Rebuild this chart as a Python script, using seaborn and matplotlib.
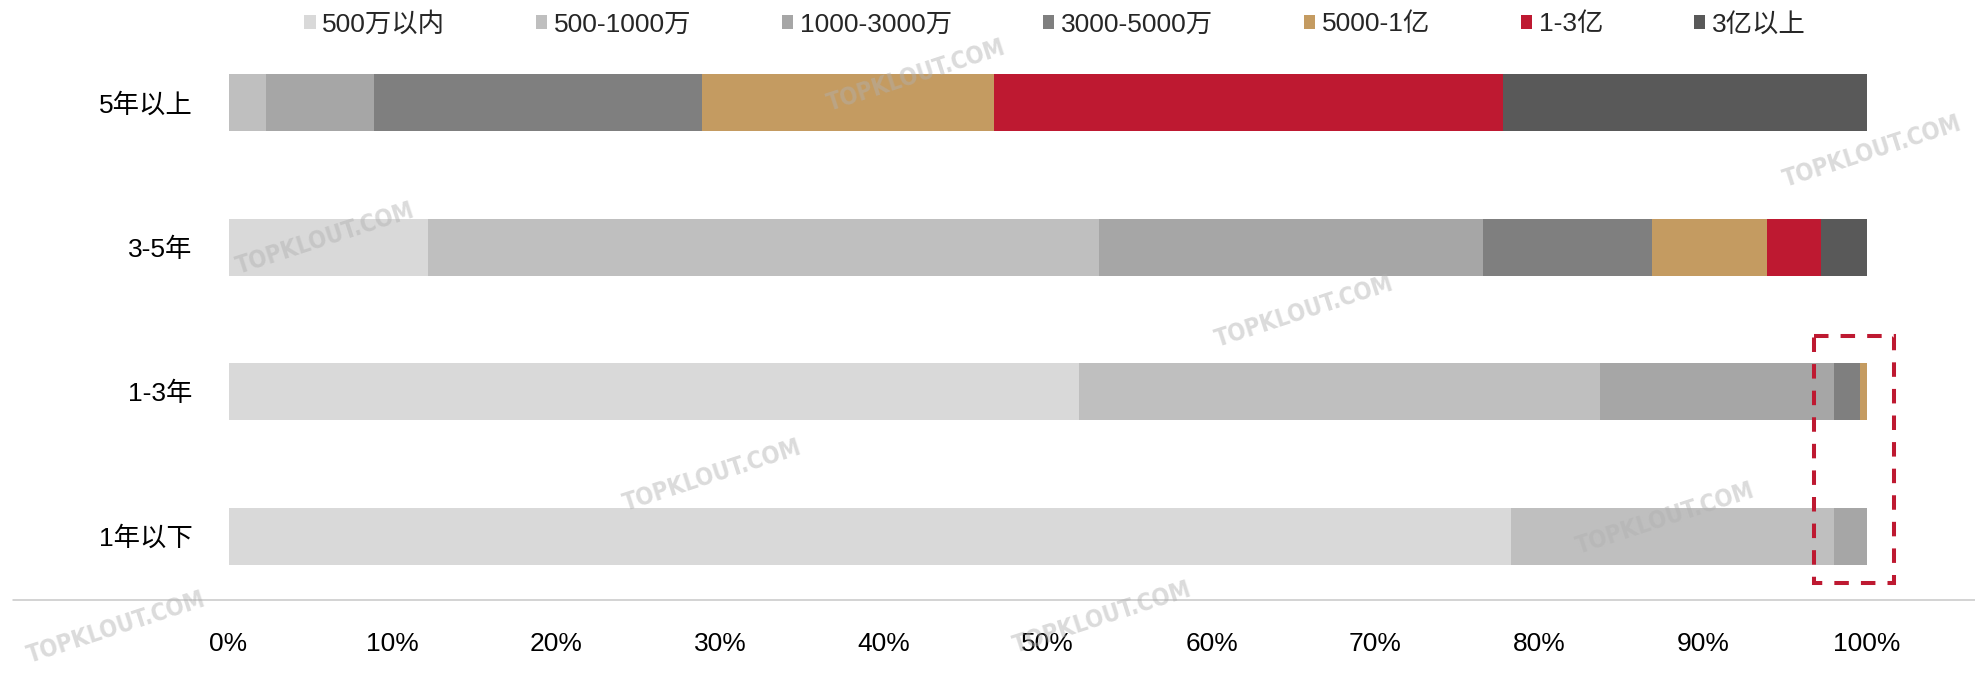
import numpy as np
import pandas as pd
import matplotlib
matplotlib.use("Agg")
import matplotlib.pyplot as plt
import seaborn as sns
from matplotlib.patches import Rectangle, Patch
from matplotlib.lines import Line2D
from matplotlib.ticker import FuncFormatter

# ---- data (percent of each age group) ----
categories = ['5年以上', '3-5年', '1-3年', '1年以下']
series_names = ['500万以内', '500-1000万', '1000-3000万', '3000-5000万', '5000-1亿', '1-3亿', '3亿以上']
s_500w = [0.0, 12.2, 51.9, 78.3]
s_500_1000w = [2.3, 40.9, 31.8, 19.7]
s_1000_3000w = [6.6, 23.45, 14.3, 2.0]
s_3000_5000w = [20.0, 10.35, 1.6, 0.0]
s_5000_1y = [17.8, 7.0, 0.4, 0.0]
s_1_3y = [31.1, 3.3, 0.0, 0.0]
s_3y_plus = [22.2, 2.8, 0.0, 0.0]
x_ticks = [0, 10, 20, 30, 40, 50, 60, 70, 80, 90, 100]

colors = ['#D9D9D9', '#BFBFBF', '#A6A6A6', '#7F7F7F', '#C49B61', '#BE1931', '#595959']

sns.set_theme(style='white')
plt.rcParams['font.family'] = ['Liberation Sans', 'Noto Sans CJK SC', 'DejaVu Sans']

W, H = 1975, 676
fig = plt.figure(figsize=(W / 100, H / 100), dpi=100)
ax_left, ax_right = 228.5, 1867.0
ax_bottom_px = 599.6
y_lo, y_hi = 3.44, -0.56
unit = 144.4
ax_h = (y_lo - y_hi) * unit
ax = fig.add_axes([ax_left / W, (H - ax_bottom_px) / H, (ax_right - ax_left) / W, ax_h / H])

all_series = [s_500w, s_500_1000w, s_1000_3000w, s_3000_5000w, s_5000_1y, s_1_3y, s_3y_plus]
cum = np.cumsum(np.array(all_series), axis=0)

# overlay cumulative bars from the largest down to build the stack
for i in reversed(range(len(all_series))):
    df = pd.DataFrame({'cat': categories, 'val': cum[i]})
    sns.barplot(data=df, x='val', y='cat', orient='h', color=colors[i], saturation=1,
                width=0.395, edgecolor='none', linewidth=0, ax=ax)

ax.set_xlim(0, 100)
ax.set_ylim(y_lo, y_hi)
ax.set_xticks(x_ticks)
ax.xaxis.set_major_formatter(FuncFormatter(lambda v, p: f"{int(v)}%"))
ax.set_xlabel('')
ax.set_ylabel('')
for sp in ax.spines.values():
    sp.set_visible(False)
ax.tick_params(axis='x', length=0, pad=23, labelsize=19, colors='#000000')
ax.tick_params(axis='y', length=0, pad=26, labelsize=19, colors='#000000')
ax.grid(False)

# bottom axis line spanning the figure
fig.add_artist(Line2D([12.6 / W, 1.0], [(H - ax_bottom_px) / H] * 2, color='#C8C8C8', lw=1.1))

# dashed highlight box
rect = Rectangle((96.77, 1.612), 101.65 - 96.77, 3.325 - 1.612, fill=False,
                 edgecolor='#BE1931', lw=2.9, linestyle=(0, (3.6, 3.0)), clip_on=False)
ax.add_patch(rect)

# legend
handles = [Patch(facecolor=c, edgecolor='none') for c in colors]
fig.legend(handles, series_names, loc='center', bbox_to_anchor=(1055 / W, 1 - 24 / H),
           ncol=7, frameon=False, fontsize=19, handlelength=0.42, handleheight=0.42,
           handletextpad=0.25, columnspacing=3.45, borderaxespad=0)

# faint watermarks
wm = [(916, 76), (1872, 152), (325, 239), (1304, 312), (712, 476), (1665, 519), (116, 628), (1102, 618)]
for (wx, wy) in wm:
    fig.text(wx / W, 1 - wy / H, 'TOPKLOUT.COM', rotation=18, ha='center', va='center',
             fontsize=17, fontweight='bold', color='#B0B0B0', alpha=0.45,
             family=['DejaVu Sans'], fontstretch='condensed')

fig.savefig('out.png', dpi=100)
